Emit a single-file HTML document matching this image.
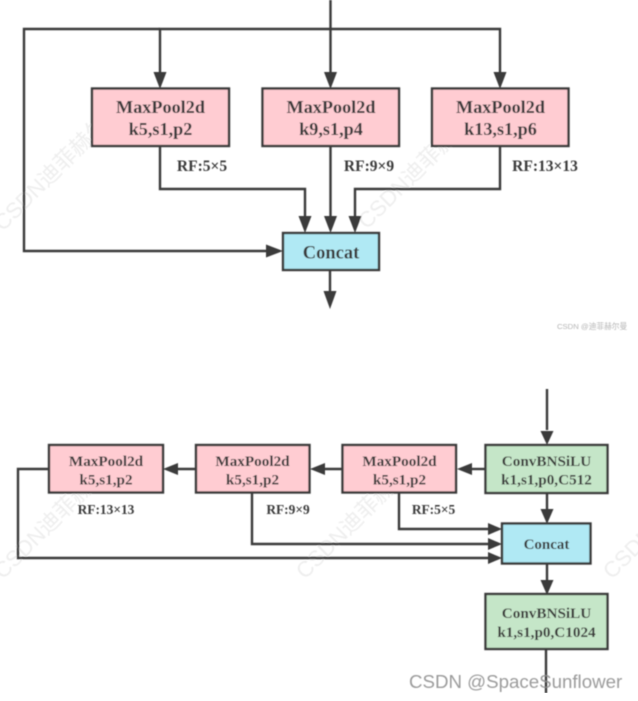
<!DOCTYPE html>
<html>
<head>
<meta charset="utf-8">
<style>
html,body{margin:0;padding:0;background:#fff;}
svg{display:block;}
.t{font-family:"Liberation Serif","Noto Serif CJK SC",serif;font-weight:bold;fill:#3a3a3a;text-anchor:middle;}
.wm{font-family:"Liberation Sans","Noto Sans CJK SC",sans-serif;fill:#eeeeee;font-size:22px;}
</style>
</head>
<body>
<svg width="638" height="701" viewBox="0 0 638 701" xmlns="http://www.w3.org/2000/svg">
<defs><filter id="b" x="0" y="0" width="100%" height="100%"><feGaussianBlur stdDeviation="0.4"/></filter></defs>
<rect width="638" height="701" fill="#fff"/>
<g filter="url(#b)">
<g class="wm">
<text transform="translate(3,232) rotate(-45)">CSDN迪菲赫尔曼</text>
<text transform="translate(367,230) rotate(-45)">CSDN迪菲赫尔曼</text>
<text transform="translate(3,580) rotate(-45)">CSDN迪菲赫尔曼</text>
<text transform="translate(305,580) rotate(-45)">CSDN迪菲赫尔曼</text>
<text transform="translate(612,580) rotate(-45)">CSDN迪菲赫尔曼</text>
</g>

<g fill="none" stroke="#3a3a3a" stroke-width="2.4">
<path d="M330.5 0V75"/>
<path d="M160 75V29H500V75"/>
<path d="M160 29H24V251H268"/>
<path d="M160 146V189H305V218"/>
<path d="M330.5 146V218"/>
<path d="M500 146V189H355V218"/>
<path d="M330 270V293"/>
<path d="M547 389V430"/>
<path d="M547 493V510"/>
<path d="M547 564V580"/>
<path d="M546 649V693"/>
<path d="M485 469H470"/>
<path d="M342 469H324"/>
<path d="M195 469H177"/>
<path d="M49 469H18V558H488"/>
<path d="M252 493V544H488"/>
<path d="M399 493V529H488"/>
</g>

<g fill="#3a3a3a">
<path d="M153.500 72H166.500L160 89Z"/>
<path d="M324 72H337L330.500 89Z"/>
<path d="M493.500 72H506.500L500 89Z"/>
<path d="M298.500 216H311.500L305 233Z"/>
<path d="M324 216H337L330.500 233Z"/>
<path d="M348.500 216H361.500L355 233Z"/>
<path d="M266 244.500V257.500L283 251Z"/>
<path d="M323.500 291H336.500L330 309Z"/>
<path d="M540.500 431H553.500L547 445Z"/>
<path d="M540.500 509H553.500L547 524Z"/>
<path d="M540.500 580H553.500L547 595Z"/>
<path d="M457 469L472 463V475Z"/>
<path d="M310 469L325 463V475Z"/>
<path d="M163 469L178 463V475Z"/>
<path d="M502 529L488 523V535Z"/>
<path d="M502 544L488 538V550Z"/>
<path d="M502 558L488 552V564Z"/>
</g>

<g stroke="#3a3a3a" stroke-width="2.400">
<rect x="92" y="88.500" width="137" height="57.500" fill="#ffccd2"/>
<rect x="262.500" y="88.500" width="136.500" height="57.500" fill="#ffccd2"/>
<rect x="432" y="88.500" width="136.500" height="57.500" fill="#ffccd2"/>
<rect x="283" y="233" width="96" height="37" fill="#b0e9f4"/>
<rect x="49" y="445" width="114" height="47.500" fill="#ffccd2"/>
<rect x="196" y="445" width="113.500" height="47.500" fill="#ffccd2"/>
<rect x="342.500" y="445" width="113.500" height="47.500" fill="#ffccd2"/>
<rect x="485.500" y="445" width="122" height="48" fill="#c5e6c8"/>
<rect x="502" y="523.500" width="88.500" height="40" fill="#b0e9f4"/>
<rect x="485.500" y="594" width="122" height="55" fill="#c5e6c8"/>
</g>

<g class="t" font-size="18.200">
<text x="160.500" y="113">MaxPool2d</text>
<text x="160.500" y="135">k5,s1,p2</text>
<text x="331" y="113">MaxPool2d</text>
<text x="331" y="135">k9,s1,p4</text>
<text x="500.500" y="113">MaxPool2d</text>
<text x="500.500" y="135">k13,s1,p6</text>
<text x="331" y="258.500" font-size="18.500">Concat</text>
</g>
<g class="t" font-size="15.500">
<text x="202" y="171">RF:5×5</text>
<text x="369" y="171">RF:9×9</text>
<text x="545" y="171">RF:13×13</text>
</g>
<g class="t" font-size="15.200">
<text x="106" y="466">MaxPool2d</text>
<text x="106" y="484.500">k5,s1,p2</text>
<text x="252.500" y="466">MaxPool2d</text>
<text x="252.500" y="484.500">k5,s1,p2</text>
<text x="399.500" y="466">MaxPool2d</text>
<text x="399.500" y="484.500">k5,s1,p2</text>
<text x="546.500" y="466">ConvBNSiLU</text>
<text x="546.500" y="484.500">k1,s1,p0,C512</text>
<text x="546.500" y="549" font-size="15">Concat</text>
<text x="546.500" y="618">ConvBNSiLU</text>
<text x="546.500" y="637">k1,s1,p0,C1024</text>
</g>
<g class="t" font-size="13.400">
<text x="106" y="514">RF:13×13</text>
<text x="288" y="514">RF:9×9</text>
<text x="433.500" y="514">RF:5×5</text>
</g>

<text x="557" y="329" font-family="'Liberation Sans','Noto Sans CJK SC',sans-serif" font-size="7.700" fill="#b5b5b5">CSDN @迪菲赫尔曼</text>
<text x="409" y="688" font-family="'Liberation Sans',sans-serif" font-size="18.700" fill="#8a8a8a" fill-opacity="0.85">CSDN @SpaceSunflower</text>
</g>
</svg>
</body>
</html>
